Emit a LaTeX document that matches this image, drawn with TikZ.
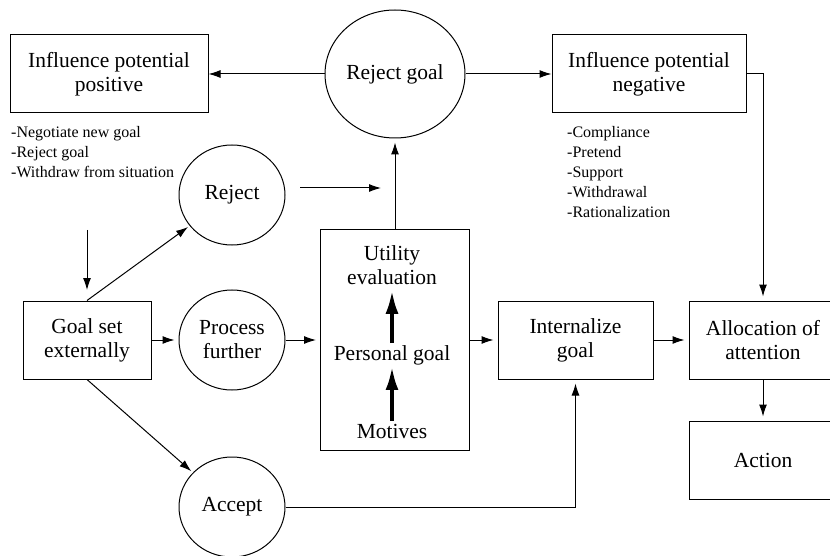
\documentclass[tikz,border=0pt]{standalone}
\usepackage{fontspec}
\setmainfont{Liberation Serif}
\usetikzlibrary{positioning,arrows.meta,shapes.geometric}
\tikzset{
    every edge/.style={draw,-{Latex[length=12pt,width=8pt]},line width=1pt,shorten >=4pt},
    link/.style={draw,-{Latex[length=12pt,width=8pt]},line width=1pt},
    box/.style={draw,rectangle,line width=1pt,align=center,inner sep=0pt,
        minimum height=78pt,font=\fontsize{21.5}{24}\selectfont},
    oval/.style={draw,ellipse,line width=1pt,align=center,inner sep=0pt,
        minimum width=106pt,minimum height=100pt,font=\fontsize{21.5}{24}\selectfont},
    inner/.style={align=center,inner sep=0pt,font=\fontsize{21.5}{24}\selectfont},
    note/.style={anchor=north west,align=left,inner sep=0pt,font=\fontsize{16}{20}\selectfont},
    bold/.style={draw,-{Latex[length=23pt,width=13pt]},line width=3.4pt},
}
\begin{document}
\begin{tikzpicture}[x=1pt,y=-1pt]
    \useasboundingbox (0,0) rectangle (830,556);

    % top row
    \node[box,minimum width=198pt] (ipos) at (109,74) {Influence potential\\positive};
    \node[oval,minimum width=140pt,minimum height=128pt] (rgoal) at (395,74) {Reject goal};
    \node[box,minimum width=194pt] (ineg) at (649,74) {Influence potential\\negative};
    \node[note] (posnote) at (11,126) {-Negotiate new goal\\-Reject goal\\-Withdraw from situation};
    \node[note] (negnote) at (567,126) {-Compliance\\-Pretend\\-Support\\-Withdrawal\\-Rationalization};

    % left column
    \node[oval] (reject) at (232,195) {Reject};
    \node[box,minimum width=128pt] (gset) at (87,340) {Goal set\\externally};
    \node[oval] (proc) at (232,340) {Process\\further};
    \node[oval] (accept) at (232,507) {Accept};

    % utility box
    \node[box,minimum width=149pt,minimum height=220pt] (util) at (395,340) {};
    \node[inner] (ueval) at (392,265) {Utility\\evaluation};
    \node[inner] (pgoal) at (392,355) {Personal goal};
    \node[inner] (motiv) at (392,431) {Motives};

    % right part
    \node[box,minimum width=155pt] (intern) at (575.5,340) {Internalize\\goal};
    \node[box,minimum width=148pt] (alloc) at (763,340) {Allocation of\\attention};
    \node[box,minimum width=148pt] (action) at (763,460) {Action};

    \coordinate (rjfrom) at (300,188);
    \coordinate (rjto) at (381,188);
    \coordinate (extfrom) at (87,230);
    \coordinate (extto) at (87,290);

    \path
    (rgoal) edge[shorten >=0pt] (ipos)
    (rgoal) edge[shorten >=0pt] (ineg)
    (util) edge (rgoal)
    (gset.north) edge[shorten >=2pt] (reject)
    (gset.south) edge[shorten >=2pt] (accept)
    (gset) edge (proc)
    (proc) edge (util)
    (util) edge (intern)
    (intern) edge (alloc)
    (alloc) edge (action)
    (rjfrom) edge[shorten >=0pt] (rjto)
    (extfrom) edge[shorten >=0pt] (extto);

    \draw[link,shorten >=4pt] (ineg.east) -| (alloc.north);
    \draw[link,shorten >=4pt] (accept.east) -| (intern.south);

    \draw[bold,shorten <=2pt,shorten >=6pt] (pgoal) -- (ueval);
    \draw[bold,shorten <=3pt,shorten >=2pt] (motiv) -- (pgoal);
\end{tikzpicture}
\end{document}
